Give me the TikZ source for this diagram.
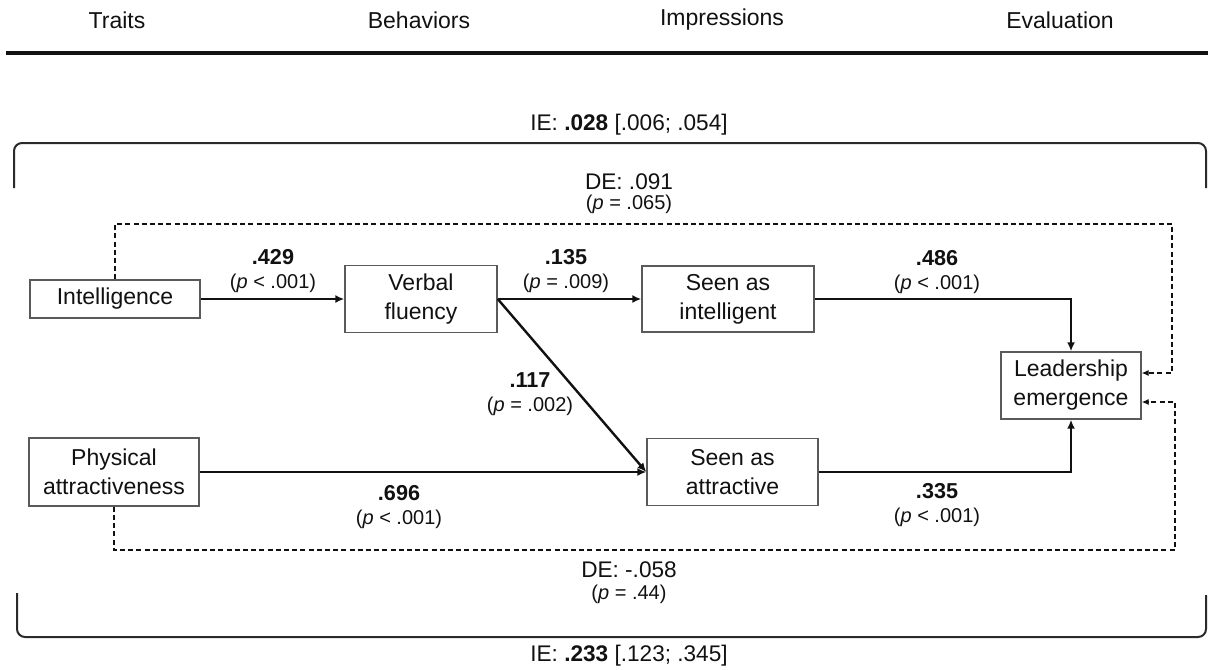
\documentclass[tikz,border=0pt]{standalone}
\usepackage{fontspec}
\setmainfont{Liberation Sans}
\usetikzlibrary{arrows.meta,calc}
\definecolor{ink}{HTML}{111111}
\definecolor{boxline}{HTML}{5A5A5A}
\definecolor{bracketline}{HTML}{2A2A2A}
\begin{document}
\begin{tikzpicture}[x=0.5pt,y=-0.5pt,
  every node/.style={text=ink},
  varbox/.style={draw=boxline,line width=0.7pt,fill=white,align=center,inner sep=0pt,
    font=\fontsize{11.5}{14.5}\selectfont},
  head/.style={inner sep=1pt,font=\fontsize{11.5}{14}\selectfont},
  coef/.style={inner sep=1pt,font=\fontsize{10.8}{13}\selectfont\bfseries},
  pval/.style={inner sep=1pt,font=\fontsize{10}{12}\selectfont},
  effect/.style={inner sep=1pt,font=\fontsize{11.3}{13}\selectfont},
  effarrow/.style={draw=ink,line width=1.2pt,-{Latex[length=4.5pt,width=4pt]}},
  indirect/.style={draw=ink,line width=1pt,dash pattern=on 2.5pt off 1.6pt,
    -{Latex[length=3.5pt,width=3.2pt]}},
  bracket/.style={draw=bracketline,line width=1pt,rounded corners=4pt}
]
\useasboundingbox (0,0) rectangle (1208,669);

% column headings and rule
\node[head] (hT) at (117,20) {Traits};
\node[head] (hB) at (419,20) {Behaviors};
\node[head] (hI) at (722,20) {Impressions};
\node[head] (hE) at (1060,20) {Evaluation};
\coordinate (ruleL) at (6,53);
\coordinate (ruleR) at (1208,53);
\draw[line width=2pt,draw=ink] (ruleL) -- (ruleR);

% brackets for the indirect effects
\draw[bracket] (14,188) -- (14,143) -- (1206,143) -- (1206,188);
\draw[bracket] (17,593) -- (17,637) -- (1206,637) -- (1206,595);

% effect labels
\node[effect] (ieTop) at (629,125) {IE: \textbf{.028} [.006; .054]};
\node[effect] (deTop) at (629,182) {DE: .091};
\node[pval] (deTopP) at (629,204) {(\textit{p} = .065)};
\node[effect] (deBot) at (629,570) {DE: -.058};
\node[pval] (deBotP) at (629,594) {(\textit{p} = .44)};
\node[effect] (ieBot) at (629,656) {IE: \textbf{.233} [.123; .345]};

% variables
\node[varbox,minimum width=85pt,minimum height=19pt] (intel) at (115,299) {Intelligence};
\node[varbox,minimum width=76pt,minimum height=33.5pt] (verb) at (421,299) {Verbal\\fluency};
\node[varbox,minimum width=86pt,minimum height=33pt] (sint) at (728,299) {Seen as\\intelligent};
\node[varbox,minimum width=85pt,minimum height=34pt] (phys) at (114,472) {Physical\\attractiveness};
\node[varbox,minimum width=85.5pt,minimum height=33.5pt] (satt) at (732.5,472) {Seen as\\attractive};
\node[varbox,minimum width=70pt,minimum height=33.5pt] (lead) at (1071,385.5) {Leadership\\emergence};

% paths
\draw[effarrow] (intel.east) -- (verb.west);
\draw[effarrow] (verb.east) -- (sint.west);
\draw[effarrow] (verb.east) -- (satt.west);
\draw[effarrow] (phys.east) -- (satt.west);
\draw[effarrow] (sint.east) -| (lead.north);
\draw[effarrow] (satt.east) -| (lead.south);

% direct effects
\coordinate (dTop) at (1172,224);
\coordinate (dBot) at (1175,550);
\draw[indirect] (intel.north) |- (dTop) |- ($(lead.east)+(0,-12.5)$);
\draw[indirect] (phys.south) |- (dBot) |- ($(lead.east)+(0,16.5)$);

% path coefficients
\node[coef] (c429) at (273,257) {.429};
\node[pval] (p429) at (273,283) {(\textit{p} < .001)};
\node[coef] (c135) at (566,257) {.135};
\node[pval] (p135) at (566,283) {(\textit{p} = .009)};
\node[coef] (c486) at (937,258) {.486};
\node[pval] (p486) at (937,284) {(\textit{p} < .001)};
\node[coef] (c117) at (530,380) {.117};
\node[pval] (p117) at (530,406) {(\textit{p} = .002)};
\node[coef] (c696) at (399,493) {.696};
\node[pval] (p696) at (399,519) {(\textit{p} < .001)};
\node[coef] (c335) at (937,491) {.335};
\node[pval] (p335) at (937,517) {(\textit{p} < .001)};
\end{tikzpicture}
\end{document}
